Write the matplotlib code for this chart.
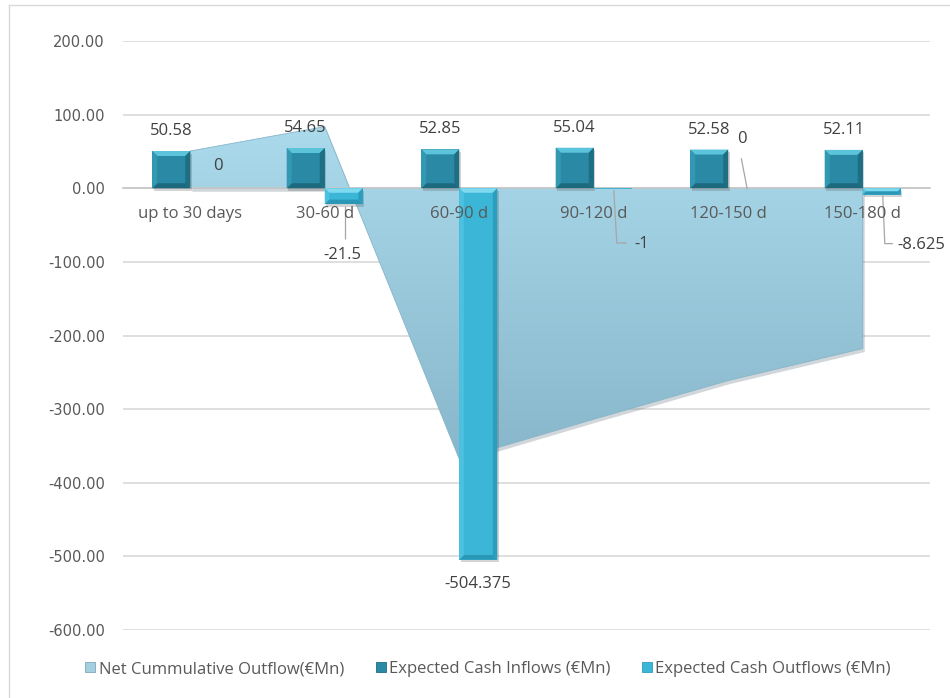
import numpy as np
import matplotlib
matplotlib.use("Agg")
import matplotlib.pyplot as plt
import matplotlib.transforms as mtransforms
from matplotlib.patches import Polygon, Patch
from matplotlib.lines import Line2D
from matplotlib.colors import LinearSegmentedColormap

# ---- data (€Mn) ----
categories = ["up to 30 days", "30-60 d", "60-90 d", "90-120 d", "120-150 d", "150-180 d"]
inflows = [50.58, 54.65, 52.85, 55.04, 52.58, 52.11]
outflows = [0, -21.5, -504.375, -1, 0, -8.625]
net_cumulative = [50.58, 83.73, -367.795, -313.755, -261.175, -217.69]
y_ticks = [-600, -500, -400, -300, -200, -100, 0, 100, 200]

series_names = ["Net Cummulative Outflow(€Mn)", "Expected Cash Inflows (€Mn)",
                "Expected Cash Outflows (€Mn)"]

plt.rcParams['font.family'] = ['Open Sans', 'DejaVu Sans']

W, H = 950, 698
fig = plt.figure(figsize=(W / 100, H / 100), dpi=100)
ax = fig.add_axes([123 / W, 1 - 630 / H, 807 / W, 589 / H])

x = np.arange(len(categories))
ax.set_xlim(-0.5, len(categories) - 0.5)
ax.set_ylim(min(y_ticks), max(y_ticks))

# outer chart frame
fig.add_artist(Line2D([9 / W, 9 / W], [0, 1 - 5 / H], transform=fig.transFigure,
                      color="#D9D9D9", lw=1.0))
fig.add_artist(Line2D([9 / W, 1], [1 - 5 / H, 1 - 5 / H], transform=fig.transFigure,
                      color="#D9D9D9", lw=1.0))

# axes styling
for s in ["left", "right", "top"]:
    ax.spines[s].set_visible(False)
ax.spines["bottom"].set_position(("data", 0))
ax.spines["bottom"].set_color("#C8C8C8")
ax.spines["bottom"].set_linewidth(1.2)
ax.set_yticks(y_ticks)
ax.set_yticklabels([f"{v:.2f}" for v in y_ticks], family="DejaVu Sans",
                   fontsize=10.5, color="#595959")
ax.tick_params(axis="y", length=0, pad=13)
ax.set_xticks(x)
ax.set_xticklabels([])
ax.tick_params(axis="x", length=0)
ax.yaxis.grid(True, color="#D9D9D9", lw=1.2, zorder=0)
ax.set_axisbelow(True)

# pixel size of one data unit
p0 = ax.transData.transform((0, 0))
px_x = ax.transData.transform((1, 0))[0] - p0[0]
px_y = ax.transData.transform((0, 1))[1] - p0[1]
PT = 0.72  # points per pixel

# ---- net cumulative area with vertical gradient and soft shadow ----
shadow_tr = mtransforms.offset_copy(ax.transData, fig=fig, x=1.5, y=-3, units="dots")
ax.fill_between(x, net_cumulative, 0, color="#7A8C96", alpha=0.35, lw=0,
                transform=shadow_tr, zorder=1.5)
area = ax.fill_between(x, net_cumulative, 0, facecolor="none",
                       edgecolor="#86B5C9", lw=0.6, zorder=2.2)
area_cmap = LinearSegmentedColormap.from_list("area", ["#88B6CA", "#AADAEC"])
top, bot = max(max(net_cumulative), 0), min(min(net_cumulative), 0)
grad = np.linspace(0, 1, 256).reshape(-1, 1)
img = ax.imshow(grad, cmap=area_cmap, origin="lower", aspect="auto",
                extent=(x[0], x[-1], bot, top), zorder=2)
img.set_clip_path(area.get_paths()[0], transform=ax.transData)
ax.set_xlim(-0.5, len(categories) - 0.5)
ax.set_ylim(min(y_ticks), max(y_ticks))

# ---- bars with bevel ----
bw = 0.283


def bevel(rect, top_c, left_c, right_c, bottom_c, depth=5.0):
    x0, y0 = rect.get_x(), rect.get_y()
    w, h = rect.get_width(), rect.get_height()
    if h == 0:
        return
    lo, hi = min(y0, y0 + h), max(y0, y0 + h)
    d = min(depth, (hi - lo) * px_y / 2, w * px_x / 2)
    dx, dy = d / px_x, d / px_y
    x1 = x0 + w
    shapes = [
        ([(x0, hi), (x1, hi), (x1 - dx, hi - dy), (x0 + dx, hi - dy)], top_c),
        ([(x0, lo), (x1, lo), (x1 - dx, lo + dy), (x0 + dx, lo + dy)], bottom_c),
        ([(x0, lo), (x0, hi), (x0 + dx, hi - dy), (x0 + dx, lo + dy)], left_c),
        ([(x1, lo), (x1, hi), (x1 - dx, hi - dy), (x1 - dx, lo + dy)], right_c),
    ]
    for pts, c in shapes:
        ax.add_patch(Polygon(pts, closed=True, facecolor=c, edgecolor="none",
                             zorder=rect.get_zorder() + 0.1))
    # soft drop shadow
    sh = mtransforms.offset_copy(ax.transData, fig=fig, x=1.5, y=-2.5, units="dots")
    ax.add_patch(Polygon([(x0, lo), (x1, lo), (x1, hi), (x0, hi)], closed=True,
                         facecolor="#555555", alpha=0.25, edgecolor="none",
                         transform=sh, zorder=rect.get_zorder() - 0.1))


in_bars = ax.bar(x - bw / 2, inflows, bw, color="#2A89A4", zorder=4)
out_bars = ax.bar(x + bw / 2, outflows, bw, color="#3BB6D7", zorder=4)
for r in in_bars:
    bevel(r, "#5CC4DA", "#3399B3", "#1E6E84", "#1D6A7F")
for r in out_bars:
    bevel(r, "#7FDAF0", "#4CC2E0", "#2B9EBE", "#2A97B6", depth=4.5)

# ---- category labels (drawn above the area and bars) ----
for i, c in enumerate(categories):
    ax.annotate(c, xy=(x[i], 0), xytext=(0, -26 * PT), textcoords="offset points",
                ha="center", va="center", fontsize=12, color="#595959", zorder=7)

# ---- data labels ----
lab_kw = dict(fontsize=12, color="#404040", ha="center", va="center",
              textcoords="offset points", zorder=6)

for i, v in enumerate(inflows):
    ax.annotate(f"{v:.2f}", xy=(x[i] - bw / 2, v), xytext=(0, 20 * PT), **lab_kw)


def fmt(v):
    return f"{v:g}"


def leader(anchor, offsets):
    """Polyline of pixel offsets (right, down) from a data anchor."""
    ax_px, ay_px = ax.transData.transform(anchor)
    pts = [ax.transData.inverted().transform((ax_px + dx, ay_px - dy))
           for dx, dy in offsets]
    pts = np.array(pts)
    ax.plot(pts[:, 0], pts[:, 1], color="#A6A6A6", lw=0.9, zorder=5,
            solid_capstyle="butt")


# (label offset in px, leader polyline in px) for each outflow label
out_label_layout = [
    ((9, -22), None),
    ((-1, 51), [(1, 2), (1, 35)]),
    ((0, 24), None),
    ((29, 55), [(1, 1), (4, 54), (14, 54)]),
    ((-5, -49), [(0, 1), (-6, -30)]),
    ((40, 50), [(1, 1), (3, 49), (11, 49)]),
]
for i, ((lx, ly), poly) in enumerate(out_label_layout):
    anchor = (x[i] + bw / 2, outflows[i])
    ax.annotate(fmt(outflows[i]), xy=anchor, xytext=(lx * PT, -ly * PT), **lab_kw)
    if poly:
        leader(anchor, poly)

ax.set_xlim(-0.5, len(categories) - 0.5)
ax.set_ylim(min(y_ticks), max(y_ticks))

# ---- legend ----
handles = [Patch(facecolor="#A3CFE0", edgecolor="#7FA9BC", lw=0.6),
           Patch(facecolor="#2A89A4", edgecolor="#1E6E84", lw=0.6),
           Patch(facecolor="#3BB6D7", edgecolor="#2B9EBE", lw=0.6)]
fig.legend(handles, series_names, loc="center", bbox_to_anchor=(488 / W, 1 - 669 / H),
           ncol=3, frameon=False, fontsize=12, labelcolor="#595959",
           handlelength=0.6, handleheight=0.6, handletextpad=0.2,
           columnspacing=1.9)

fig.savefig("out.png", dpi=100)
